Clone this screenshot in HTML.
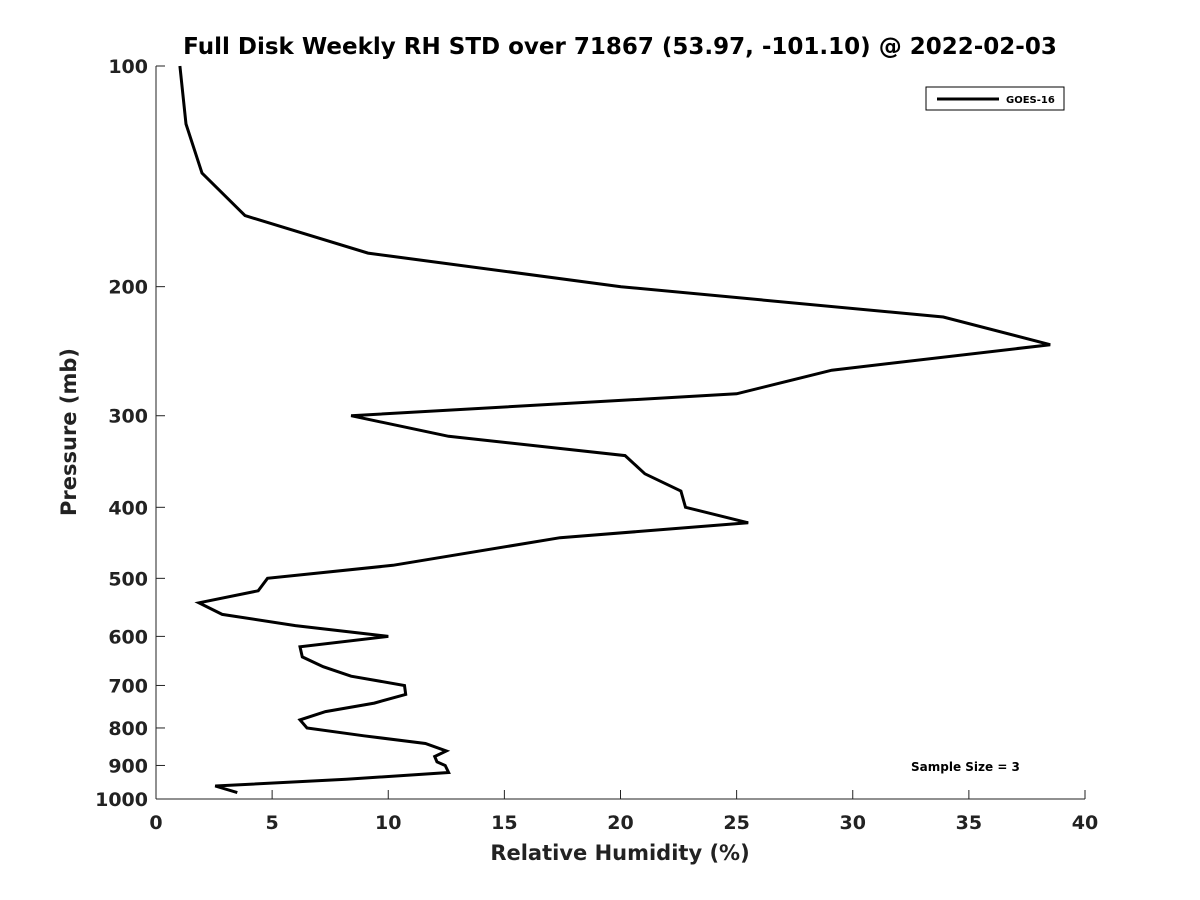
<!DOCTYPE html>
<html><head><meta charset="utf-8"><style>body{margin:0;background:#fff}svg{display:block;font-family:"DejaVu Sans","Liberation Sans",sans-serif}</style></head>
<body>
<svg id="chart" width="1200" height="900" xmlns="http://www.w3.org/2000/svg">
<rect width="1200" height="900" fill="#fff"/>
<text x="620" y="54" text-anchor="middle" font-size="23" font-weight="bold" fill="#000">Full Disk Weekly RH STD over 71867 (53.97, -101.10) @ 2022-02-03</text>
<g id="axes"></g>
<polyline id="series" fill="none" stroke="#000" stroke-width="3" stroke-linejoin="miter"/>
<g>
<rect x="926" y="87" width="138" height="23" fill="#fff" stroke="#000" stroke-width="1"/>
<line x1="937" y1="99" x2="999" y2="99" stroke="#000" stroke-width="3"/>
<text x="1006" y="103" font-size="10" font-weight="bold">GOES-16</text>
</g>
<text x="911" y="771" font-size="12" font-weight="bold">Sample Size = 3</text>
<text x="620" y="860" text-anchor="middle" font-size="21" font-weight="bold" fill="#222">Relative Humidity (%)</text>
<text transform="translate(76,432) rotate(-90)" text-anchor="middle" font-size="21" font-weight="bold" fill="#222">Pressure (mb)</text>
</svg>
<script>
const pressures=[100,120,140,160,180,200,220,240,260,280,300,320,340,360,380,400,420,440,480,500,520,540,560,580,600,620,640,660,680,700,720,740,760,780,800,820,840,860,875,890,900,920,940,960,980];
const rhStd=[1.03,1.29,1.98,3.83,9.13,20.02,33.9,38.5,29.1,25.0,8.4,12.6,20.2,21.05,22.6,22.8,25.5,17.4,10.2,4.8,4.4,1.85,2.85,6.0,10.0,6.2,6.3,7.2,8.4,10.7,10.75,9.4,7.3,6.2,6.5,8.95,11.6,12.5,12.0,12.1,12.45,12.6,8.2,2.55,3.5];
const xTicks=[0,5,10,15,20,25,30,35,40];
const yTicks=[100,200,300,400,500,600,700,800,900,1000];
const X0=156,X1=1085,Y0=66,Y1=799;
const xs=v=>X0+(v/40)*(X1-X0);
const ys=p=>Y0+(Math.log10(p)-2)*(Y1-Y0);
const NS="http://www.w3.org/2000/svg";
const ax=document.getElementById('axes');
function mk(t,a){const e=document.createElementNS(NS,t);for(const k in a)e.setAttribute(k,a[k]);ax.appendChild(e);return e;}
let l=mk('line',{x1:X0,y1:Y0,x2:X0,y2:Y1,stroke:'#222','stroke-width':1});


l=mk('line',{x1:X0,y1:Y1,x2:X1,y2:Y1,stroke:'#222','stroke-width':1});


xTicks.forEach(v=>{const x=xs(v);mk('line',{x1:x,y1:Y1,x2:x,y2:Y1-9,stroke:'#222'});
const t=mk('text',{x:x,y:Y1+30,'text-anchor':'middle','font-size':19,'font-weight':'bold',fill:'#222'});t.textContent=v;

});
yTicks.forEach(p=>{const y=ys(p);mk('line',{x1:X0,y1:y,x2:X0+9,y2:y,stroke:'#222'});
const t=mk('text',{x:X0-8,y:y+7,'text-anchor':'end','font-size':19,'font-weight':'bold',fill:'#222'});t.textContent=p;

});
document.getElementById('series').setAttribute('points',pressures.map((p,i)=>xs(rhStd[i]).toFixed(1)+','+ys(p).toFixed(1)).join(' '));
</script>
</body></html>
